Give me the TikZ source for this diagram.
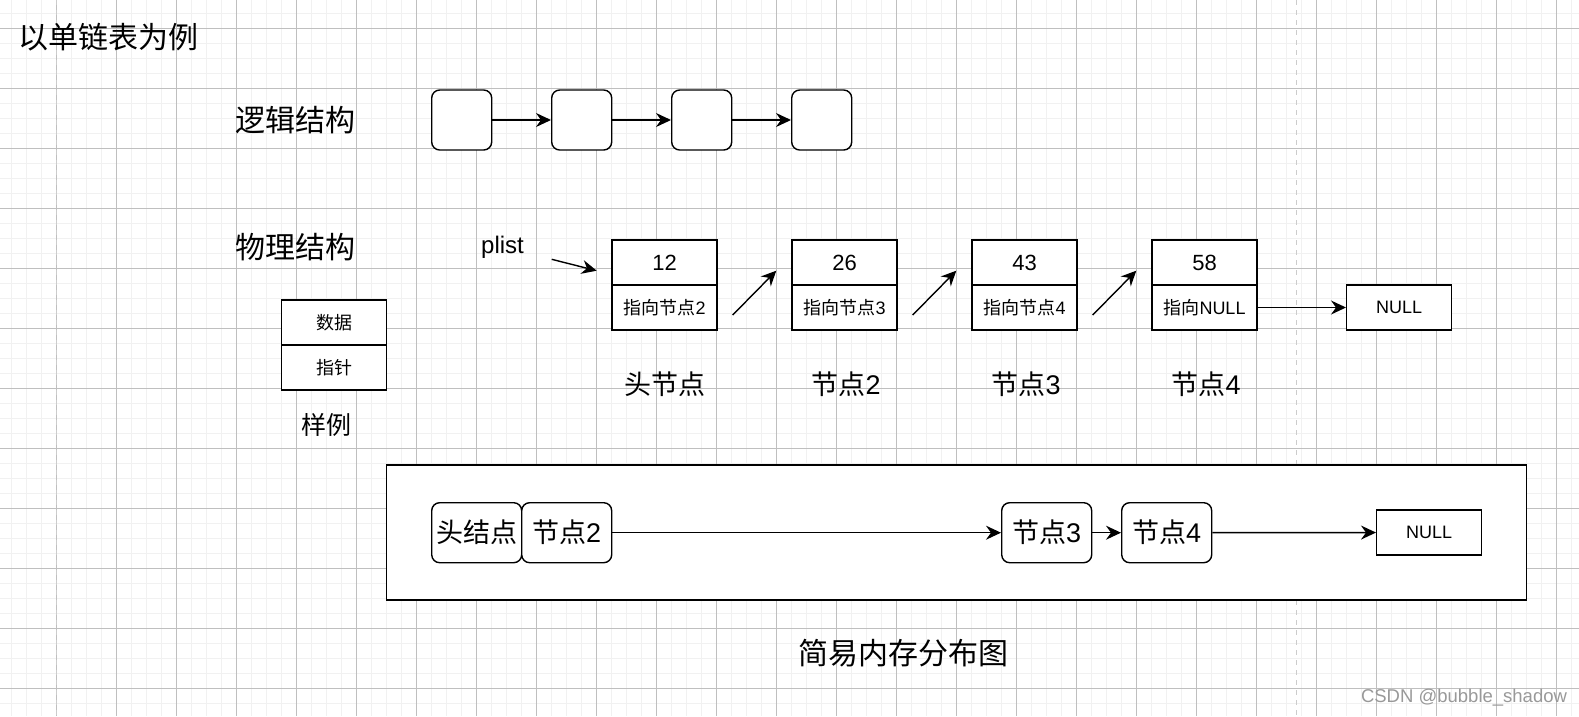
\documentclass[tikz,border=0pt]{standalone}
\usepackage{fontspec}
\setmainfont{Liberation Sans}
\newfontfamily\cjk{Noto Sans CJK SC}
\usetikzlibrary{arrows.meta,calc}
\tikzset{>={Stealth[length=15pt,width=14pt,inset=5pt]}}
\tikzset{
  box/.style={draw,line width=1.4pt,fill=white,inner sep=0pt,minimum width=105pt,minimum height=45pt},
  rbox/.style={box,rounded corners=8pt,minimum width=90pt,minimum height=60pt},
  sq/.style={box,rounded corners=8pt,minimum width=60pt,minimum height=60pt},
  link/.style={->,line width=1.4pt},
  title/.style={font=\cjk\fontsize{30}{36}\selectfont,inner sep=0pt},
  lbl/.style={font=\fontsize{27}{32}\selectfont,inner sep=0pt},
  small/.style={font=\fontsize{18}{22}\selectfont},
}

\begin{document}
\begin{tikzpicture}[x=1pt,y=-1pt]
    \useasboundingbox (0,0) rectangle (1579,716);
    % grid
    \begin{scope}
    \clip (0,0) rectangle (1579,716);
    \fill[white] (0,0) rectangle (1579,716);
    \foreach \x in {11.7,26.7,...,1580} \draw[gray!11,line width=1.3pt] (\x,0) -- (\x,716);
    \foreach \y in {13.3,28.3,...,717} \draw[gray!11,line width=1.3pt] (0,\y) -- (1579,\y);
    \foreach \x in {56.7,116.7,...,1580} \draw[gray!50,line width=0.9pt] (\x,0) -- (\x,716);
    \foreach \y in {28.3,88.3,...,717} \draw[gray!50,line width=0.9pt] (0,\y) -- (1579,\y);
    \foreach \x in {56.7,1296.7} \draw[gray!40,line width=1pt,dash pattern=on 5pt off 5pt] (\x,0) -- (\x,716);
    \end{scope}

    \node[title,anchor=west] (t0) at (18,37.5) {以单链表为例};

    % logical structure
    \node[title,anchor=west] (t1) at (235,120) {逻辑结构};
    \foreach \i in {1,...,4}
        \node[sq] (q\i) at (341.7+120*\i,120) {};
    \foreach \i/\j in {1/2,2/3,3/4}
        \draw[link] (q\i) -- (q\j);

    % physical structure
    \node[title,anchor=west] (t2) at (235,247) {物理结构};
    \node[font=\fontsize{24}{28}\selectfont,inner sep=0pt] (plist) at (502.5,247) {plist};
    \foreach \i/\val/\ptr [evaluate=\i as \cx using 484.5+180*\i] in
        {1/12/{{\cjk 指向节点}2},2/26/{{\cjk 指向节点}3},3/43/{{\cjk 指向节点}4},4/58/{{\cjk 指向}NULL}} {
        \node[box,font=\fontsize{22}{26}\selectfont] (d\i) at (\cx,262.5) {\val};
        \node[box,small] (p\i) at (\cx,307.5) {\ptr};
    }
    \node[box,small] (null1) at (1399.2,307.5) {NULL};
    \coordinate (ps) at (551.7,259.3);
    \coordinate (pe) at (596.7,270.7);
    \draw[link] (ps) -- (pe);
    \foreach \i/\j in {1/2,2/3,3/4} {
        \coordinate (s\i) at ($(p\i.east)+(15,7.5)$);
        \coordinate (e\j) at ($(d\j.west)+(-15,8.2)$);
        \draw[link] (s\i) -- (e\j);
    }
    \draw[link] (p4) -- (null1);
    \node[lbl] (n1) at (664.5,384) {\cjk 头节点};
    \node[lbl] (n2) at (846,384) {{\cjk 节点}2};
    \node[lbl] (n3) at (1026,384) {{\cjk 节点}3};
    \node[lbl] (n4) at (1206,384) {{\cjk 节点}4};

    % legend
    \node[box,font=\cjk\fontsize{18}{22}\selectfont] (ld) at (334.2,322.5) {数据};
    \node[box,font=\cjk\fontsize{18}{22}\selectfont] (lp) at (334.2,367.5) {指针};
    \node[font=\cjk\fontsize{25}{30}\selectfont,inner sep=0pt] (lt) at (326,425) {样例};

    % memory layout
    \node[box,minimum width=1140pt,minimum height=135pt] (mem) at (956.7,532.5) {};
    \node[rbox,lbl] (m1) at (476.7,532.7) {\cjk 头结点};
    \node[rbox,lbl] (m2) at (566.7,532.7) {{\cjk 节点}2};
    \node[rbox,lbl] (m3) at (1046.7,532.7) {{\cjk 节点}3};
    \node[rbox,lbl] (m4) at (1166.7,532.7) {{\cjk 节点}4};
    \node[box,small] (mnull) at (1429.2,532.5) {NULL};
    \draw[link] (m2) -- (m3);
    \draw[link] (m3) -- (m4);
    \draw[link] (m4) -- (mnull);
    \node[title] (t3) at (903,653.5) {简易内存分布图};

    \node[gray!80,font=\fontsize{18.5}{22}\selectfont,inner sep=0pt] (wm) at (1464,698) {CSDN @bubble\_shadow};
\end{tikzpicture}
\end{document}
